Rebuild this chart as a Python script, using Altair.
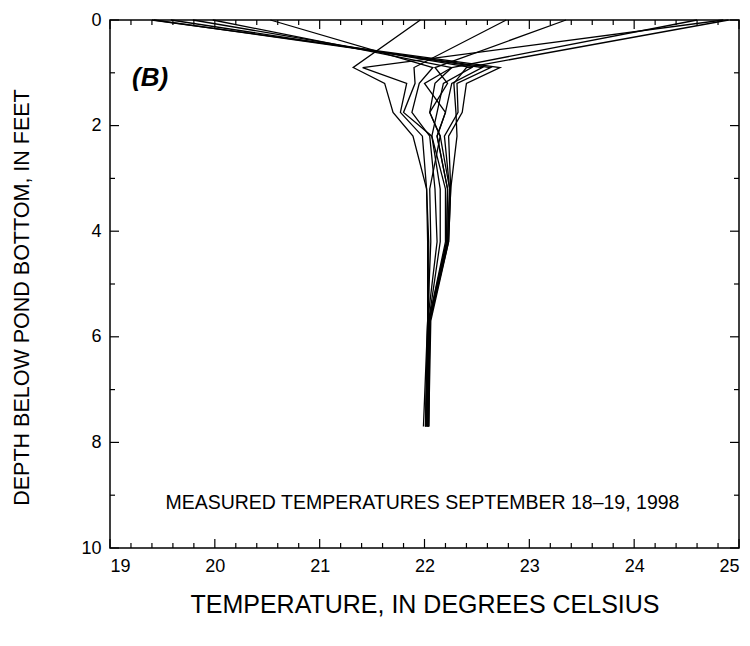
import altair as alt
import pandas as pd

# Depths (feet below pond bottom) at which temperatures were read
depths = [0.0, 0.9, 1.2, 1.75, 2.2, 3.2, 4.2, 5.7, 7.7]

# Temperature profiles (degrees Celsius), one per measurement time
p01 = [21.96, 21.32, 21.62, 21.70, 21.89, 22.02, 22.03, 22.03, 21.99]
p02 = [24.85, 21.41, 21.83, 21.77, 21.98, 22.02, 22.04, 22.04, 22.01]
p03 = [19.40, 22.72, 22.40, 22.36, 22.23, 22.25, 22.23, 22.05, 22.04]
p04 = [19.42, 22.63, 22.31, 22.32, 22.19, 22.24, 22.22, 22.05, 22.03]
p05 = [19.58, 22.55, 22.26, 22.20, 22.12, 22.22, 22.21, 22.04, 22.02]
p06 = [19.79, 22.45, 22.18, 22.12, 22.07, 22.20, 22.20, 22.04, 22.03]
p07 = [19.98, 22.26, 22.10, 22.05, 22.15, 22.24, 22.22, 22.05, 22.04]
p08 = [20.53, 22.08, 21.95, 21.88, 22.05, 22.10, 22.12, 22.03, 22.01]
p09 = [22.78, 21.90, 21.91, 21.80, 22.07, 22.15, 22.15, 22.04, 22.02]
p10 = [23.35, 22.10, 22.22, 22.05, 22.15, 22.05, 22.06, 22.03, 22.01]
p11 = [24.60, 22.26, 22.00, 22.20, 22.12, 22.22, 22.21, 22.05, 22.03]
p12 = [24.90, 22.40, 22.28, 22.30, 22.31, 22.25, 22.23, 22.06, 22.04]

profiles = [p01, p02, p03, p04, p05, p06, p07, p08, p09, p10, p11, p12]

# Axis tick values
x_major = [19, 20, 21, 22, 23, 24, 25]
x_minor = [round(19 + 0.2 * i, 1) for i in range(31) if i % 5 != 0]
y_major = [0, 2, 4, 6, 8, 10]
y_minor = [1, 3, 5, 7, 9]

rows = []
for k, prof in enumerate(profiles):
    for d, t in zip(depths, prof):
        rows.append({"profile": k, "depth": d, "temp": t})
df = pd.DataFrame(rows)

W, H = 629, 528
FONT = "Liberation Sans"

xscale = alt.Scale(domain=[19, 25], nice=False, zero=False)
yscale = alt.Scale(domain=[0, 10], reverse=True, nice=False, zero=False)

xaxis = alt.Axis(values=x_major, ticks=False, domain=False, grid=False,
                 labelFontSize=18, labelPadding=9, labelFont=FONT,
                 labelColor="black",
                 title="TEMPERATURE, IN DEGREES CELSIUS",
                 titleFontSize=25, titleFontWeight="normal",
                 titleFont=FONT, titlePadding=17, titleColor="black")
yaxis = alt.Axis(values=y_major, ticks=False, domain=False, grid=False,
                 labelFontSize=18, labelPadding=9, labelFont=FONT,
                 labelColor="black",
                 title="DEPTH BELOW POND BOTTOM, IN FEET",
                 titleFontSize=21.5, titleFontWeight="normal",
                 titleFont=FONT, titlePadding=47, titleColor="black",
                 titleY=277)

X = alt.X("temp:Q", scale=xscale, axis=xaxis)
Y = alt.Y("depth:Q", scale=yscale, axis=yaxis)

lines = alt.Chart(df).mark_line(color="black", strokeWidth=1.3).encode(
    x=X, y=Y, detail="profile:N", order="depth:Q",
)

xmaj = pd.DataFrame({"temp": x_major})
xmin = pd.DataFrame({"temp": x_minor})
ymaj = pd.DataFrame({"depth": y_major})
ymin = pd.DataFrame({"depth": y_minor})

def xticks(data, length):
    bottom = alt.Chart(data).mark_rule(color="black", strokeWidth=1.2).encode(
        x=X, y=alt.value(H), y2=alt.value(H - length))
    top = alt.Chart(data).mark_rule(color="black", strokeWidth=1.2).encode(
        x=X, y=alt.value(0), y2=alt.value(length))
    return bottom + top

def yticks(data, length):
    left = alt.Chart(data).mark_rule(color="black", strokeWidth=1.2).encode(
        y=Y, x=alt.value(0), x2=alt.value(length))
    right = alt.Chart(data).mark_rule(color="black", strokeWidth=1.2).encode(
        y=Y, x=alt.value(W), x2=alt.value(W - length))
    return left + right

label_b = alt.Chart(pd.DataFrame({"temp": [19.21], "depth": [1.1], "t": ["(B)"]})).mark_text(
    align="left", baseline="middle", fontSize=26, fontWeight="bold",
    fontStyle="italic", font=FONT, color="black"
).encode(x=X, y=Y, text="t:N")

note = alt.Chart(pd.DataFrame({"temp": [21.98], "depth": [9.15],
                               "t": ["MEASURED TEMPERATURES SEPTEMBER 18\u201319, 1998"]})).mark_text(
    align="center", baseline="middle", fontSize=19.5, font=FONT, color="black"
).encode(x=X, y=Y, text="t:N")

chart = alt.layer(
    lines,
    xticks(xmaj, 9), xticks(xmin, 5),
    yticks(ymaj, 9), yticks(ymin, 5),
    label_b, note,
).properties(
    width=W, height=H,
    autosize="none",
    background="white",
    padding={"left": 102, "top": 12, "right": 3, "bottom": 90},
).configure_view(
    stroke="black", strokeWidth=1.5
)

chart.save("out.html", embed_options={"renderer": "svg", "actions": False})
